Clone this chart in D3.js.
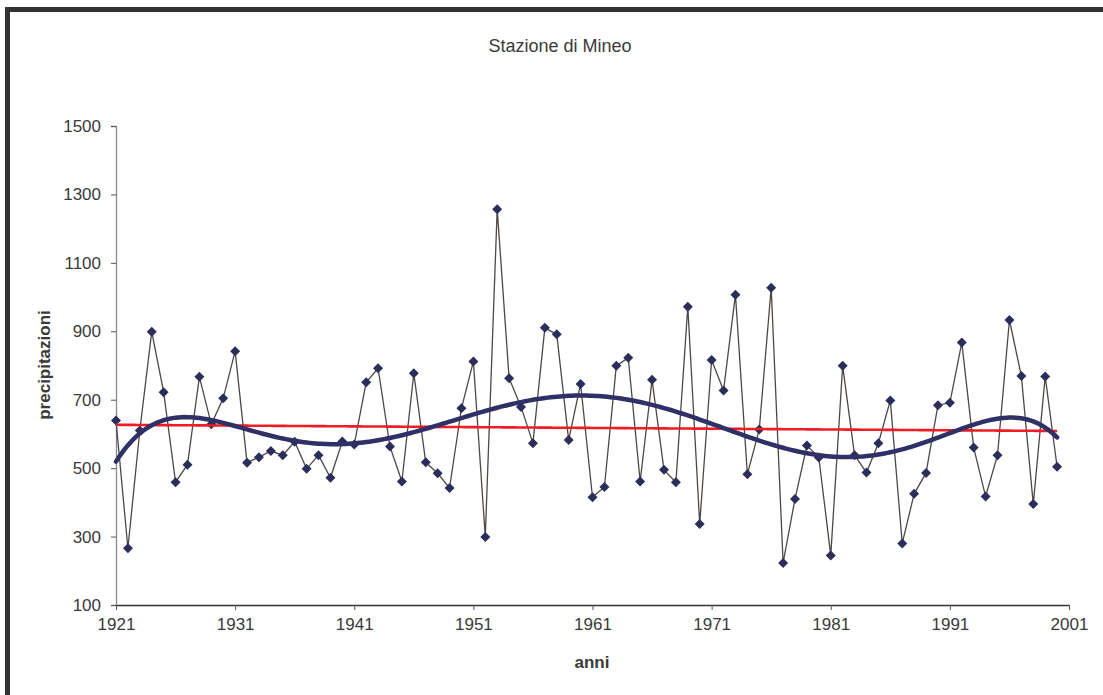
<!DOCTYPE html>
<html>
<head>
<meta charset="utf-8">
<script src="https://cdn.jsdelivr.net/npm/d3@7"></script>
<style>
  body { margin: 0; background: #fff; }
  text { font-family: "Liberation Sans", Arial, sans-serif; fill: #3a3a3a; }
</style>
</head>
<body>
<script>
// annual precipitation, Mineo station
var years = d3.range(1921, 2001);
var rain = [
    639, 266, 610, 899, 722, 459, 510, 767, 628, 704,
    842, 516, 532, 550, 538, 577, 498, 538, 472, 578,
    569, 751, 792, 563, 461, 777, 517, 485, 442, 675,
    812, 299, 1257, 763, 679, 573, 910, 891, 582, 746,
    415, 445, 799, 823, 461, 758, 495, 459, 972, 337,
    816, 727, 1007, 482, 613, 1027, 223, 410, 566, 531,
    245, 799, 538, 487, 573, 698, 280, 425, 486, 684,
    691, 867, 560, 417, 538, 933, 769, 395, 768, 504
];
var yTicks = [100, 300, 500, 700, 900, 1100, 1300, 1500];
var xTicks = [1921, 1931, 1941, 1951, 1961, 1971, 1981, 1991, 2001];

var width = 1103, height = 695;
var margin = { top: 126, right: 34, bottom: 90, left: 116 };

var svg = d3.select("body").append("svg")
    .attr("width", width)
    .attr("height", height);

// outer frame
svg.append("rect")
    .attr("x", 7.5).attr("y", 9.5)
    .attr("width", width + 20).attr("height", height + 20)
    .attr("fill", "none")
    .attr("stroke", "#333")
    .attr("stroke-width", 5);

var x = d3.scaleLinear().domain([1921, 2001]).range([margin.left, width - margin.right]);
var y = d3.scaleLinear().domain([100, 1500]).range([height - margin.bottom, margin.top]);

// least squares polynomial fit on normalized x
function polyfit(xs, ys, deg) {
    var n = deg + 1, A = [], b = [];
    for (var i = 0; i < n; i++) {
        A.push(new Array(n).fill(0));
        b.push(0);
    }
    xs.forEach(function (xv, k) {
        for (var i = 0; i < n; i++) {
            b[i] += ys[k] * Math.pow(xv, i);
            for (var j = 0; j < n; j++) A[i][j] += Math.pow(xv, i + j);
        }
    });
    for (var c = 0; c < n; c++) {
        var p = c;
        for (var r = c + 1; r < n; r++) if (Math.abs(A[r][c]) > Math.abs(A[p][c])) p = r;
        var t = A[c]; A[c] = A[p]; A[p] = t;
        t = b[c]; b[c] = b[p]; b[p] = t;
        for (var r = c + 1; r < n; r++) {
            var f = A[r][c] / A[c][c];
            for (var j = c; j < n; j++) A[r][j] -= f * A[c][j];
            b[r] -= f * b[c];
        }
    }
    var coef = new Array(n).fill(0);
    for (var i = n - 1; i >= 0; i--) {
        var s = b[i];
        for (var j = i + 1; j < n; j++) s -= A[i][j] * coef[j];
        coef[i] = s / A[i][i];
    }
    return function (xv) {
        var s = 0;
        for (var i = 0; i < n; i++) s += coef[i] * Math.pow(xv, i);
        return s;
    };
}

var norm = function (yr) { return (yr - 1960.5) / 39.5; };
var tn = years.map(norm);
var lin = polyfit(tn, rain, 1);
var poly6 = polyfit(tn, rain, 6);

// axes
var yAxis = svg.append("g")
    .attr("transform", "translate(" + margin.left + ",0)")
    .call(d3.axisLeft(y).tickValues(yTicks).tickSize(5).tickPadding(10).tickFormat(d3.format("d")));
yAxis.select(".domain").attr("stroke", "#8a8a8a").attr("stroke-width", 1.3);
yAxis.selectAll(".tick line").attr("stroke", "#555");
yAxis.selectAll("text").style("font-size", "17px").attr("fill", "#3a3a3a");

var xAxis = svg.append("g")
    .attr("transform", "translate(0," + (height - margin.bottom) + ")")
    .call(d3.axisBottom(x).tickValues(xTicks).tickSize(5).tickSizeOuter(0).tickPadding(8).tickFormat(d3.format("d")));
xAxis.select(".domain").attr("stroke", "#333").attr("stroke-width", 1.3);
xAxis.selectAll(".tick line").attr("stroke", "#555");
xAxis.selectAll("text").style("font-size", "17px").attr("fill", "#3a3a3a");

// data line
var line = d3.line()
    .x(function (d, i) { return x(years[i]); })
    .y(function (d) { return y(d); });

svg.append("path")
    .datum(rain)
    .attr("d", line)
    .attr("fill", "none")
    .attr("stroke", "#4d4843")
    .attr("stroke-width", 1.3);

svg.selectAll(".pt")
    .data(rain)
    .enter().append("path")
    .attr("class", "pt")
    .attr("transform", function (d, i) { return "translate(" + x(years[i]) + "," + y(d) + ")"; })
    .attr("d", "M0,-5L5,0L0,5L-5,0Z")
    .attr("fill", "#2b2d5a");

// trend lines
var fine = d3.range(1921, 2000.01, 0.25);
var trend = d3.line()
    .x(function (d) { return x(d); });

svg.append("path")
    .datum(fine)
    .attr("d", trend.y(function (d) { return y(lin(norm(d))); }))
    .attr("fill", "none")
    .attr("stroke", "#ee1c25")
    .attr("stroke-width", 2.6);

svg.append("path")
    .datum(fine)
    .attr("d", trend.y(function (d) { return y(poly6(norm(d))); }))
    .attr("fill", "none")
    .attr("stroke", "#2e3066")
    .attr("stroke-width", 4.5)
    .attr("stroke-linecap", "round");

// titles
svg.append("text")
    .attr("x", 560).attr("y", 52)
    .attr("text-anchor", "middle")
    .style("font-size", "18px")
    .text("Stazione di Mineo");

svg.append("text")
    .attr("x", 592).attr("y", 668)
    .attr("text-anchor", "middle")
    .style("font-size", "17px")
    .style("font-weight", "bold")
    .text("anni");

svg.append("text")
    .attr("transform", "translate(50,365) rotate(-90)")
    .attr("text-anchor", "middle")
    .style("font-size", "17px")
    .style("font-weight", "bold")
    .text("precipitazioni");
</script>
</body>
</html>
